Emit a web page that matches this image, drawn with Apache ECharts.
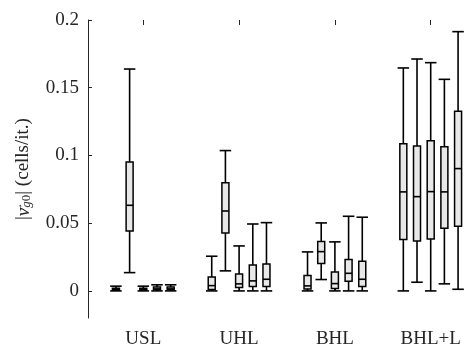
<!DOCTYPE html>
<html>
<head>
<meta charset="utf-8">
<script src="https://cdn.jsdelivr.net/npm/echarts@6/dist/echarts.min.js"></script>
<style>
html, body { margin: 0; padding: 0; background: #fff; }
#chart { width: 467px; height: 349px; }
</style>
</head>
<body>
<div id="chart"></div>
<script>
// groups on the x axis, five boxes in each
var groups = ['USL', 'UHL', 'BHL', 'BHL+L'];
var yTicks = [0, 0.05, 0.1, 0.15, 0.2];

// each box: [min, q1, median, q3, max]
var uslBoxes = [
    [0, 0.0005, 0.0012, 0.002, 0.0035],
    [0.0135, 0.0443, 0.0632, 0.0952, 0.1638],
    [0, 0.0005, 0.0012, 0.002, 0.0035],
    [0, 0.0008, 0.0015, 0.0028, 0.0045],
    [0, 0.0008, 0.0015, 0.0028, 0.0045]
];
var uhlBoxes = [
    [0, 0.001, 0.0039, 0.0103, 0.0256],
    [0.0148, 0.0428, 0.059, 0.0799, 0.1036],
    [0, 0.0025, 0.0052, 0.0125, 0.0332],
    [0, 0.0032, 0.0074, 0.0192, 0.0494],
    [0, 0.0032, 0.0086, 0.0199, 0.0504]
];
var bhlBoxes = [
    [0, 0.0015, 0.0037, 0.0113, 0.0288],
    [0.0084, 0.0202, 0.029, 0.0364, 0.0502],
    [0, 0.0017, 0.0054, 0.014, 0.0362],
    [0, 0.0071, 0.013, 0.0231, 0.0551],
    [0, 0.0032, 0.0086, 0.0219, 0.0544]
];
var bhllBoxes = [
    [0, 0.0379, 0.0731, 0.1087, 0.1646],
    [0.0064, 0.0369, 0.0696, 0.107, 0.1712],
    [0, 0.0384, 0.0733, 0.1109, 0.1685],
    [0.0052, 0.0462, 0.0731, 0.1065, 0.1562],
    [0.0012, 0.0477, 0.0903, 0.1326, 0.1914]
];

var allBoxes = [uslBoxes, uhlBoxes, bhlBoxes, bhllBoxes];
var seriesData = [];
allBoxes.forEach(function (list, g) {
    list.forEach(function (b, k) {
        seriesData.push([g, k].concat(b));
    });
});

var font = 'Liberation Serif';
var axisColor = '#262626';

function renderBox(params, api) {
    var cat = api.value(0);
    var slot = api.value(1);
    var band = api.size([1, 0])[0];
    var cx = api.coord([cat, 0])[0] + (slot - 2) * band / 7;
    function y(v) { return api.coord([cat, v])[1]; }
    var yMin = y(api.value(2)), yQ1 = y(api.value(3)), yMed = y(api.value(4)),
        yQ3 = y(api.value(5)), yMax = y(api.value(6));
    var bw = 7, cw = 11.5;
    var ls = { stroke: '#000', lineWidth: 1.6 };
    return {
        type: 'group',
        children: [
            { type: 'line', shape: { x1: cx, y1: yMin, x2: cx, y2: yMax }, style: ls },
            { type: 'line', shape: { x1: cx - cw / 2, y1: yMin, x2: cx + cw / 2, y2: yMin }, style: ls },
            { type: 'line', shape: { x1: cx - cw / 2, y1: yMax, x2: cx + cw / 2, y2: yMax }, style: ls },
            { type: 'rect', shape: { x: cx - bw / 2, y: yQ3, width: bw, height: yQ1 - yQ3 },
              style: { fill: '#e8e8e8', stroke: '#000', lineWidth: 1.5 } },
            { type: 'line', shape: { x1: cx - bw / 2, y1: yMed, x2: cx + bw / 2, y2: yMed }, style: ls }
        ]
    };
}

var chart = echarts.init(document.getElementById('chart'), null, { renderer: 'canvas' });
var option = {
    backgroundColor: '#fff',
    animation: false,
    grid: { left: 95.4, top: 20, width: 383.2, height: 298, outerBoundsMode: 'none' },
    xAxis: [
        {
            type: 'category',
            data: groups,
            position: 'bottom',
            axisLine: { show: false },
            axisTick: { show: true, inside: true, length: 5, alignWithLabel: true, lineStyle: { color: axisColor } },
            axisLabel: { margin: 12, color: axisColor, fontFamily: font, fontSize: 19 },
            splitLine: { show: false }
        },
        {
            type: 'category',
            data: groups,
            position: 'top',
            axisLine: { show: false },
            axisTick: { show: true, inside: true, length: 5, alignWithLabel: true, lineStyle: { color: axisColor } },
            axisLabel: { show: false },
            splitLine: { show: false }
        }
    ],
    yAxis: {
        type: 'value',
        min: -0.02,
        max: 0.2,
        offset: 7.4,
        axisLine: { show: true, lineStyle: { color: axisColor, width: 1 } },
        axisTick: { show: true, inside: true, length: 4, customValues: yTicks, lineStyle: { color: axisColor } },
        axisLabel: { margin: 9, customValues: yTicks, color: axisColor, fontFamily: font, fontSize: 19 },
        splitLine: { show: false },
        name: '{n||}{v|v}{a|\u2192}{s|g}{z|0}{n||} (cells/it.)',
        nameLocation: 'middle',
        nameGap: 55,
        nameTextStyle: {
            color: axisColor, fontFamily: font, fontSize: 19,
            rich: {
                n: { fontFamily: font, fontSize: 19, color: axisColor },
                v: { fontFamily: font, fontSize: 19, fontStyle: 'italic', color: axisColor },
                a: { fontFamily: font, fontSize: 11, color: axisColor, width: 0.01, align: 'right', verticalAlign: 'top' },
                s: { fontFamily: font, fontSize: 13, fontStyle: 'italic', color: axisColor, verticalAlign: 'bottom' },
                z: { fontFamily: font, fontSize: 13, color: axisColor, verticalAlign: 'bottom' }
            }
        }
    },
    series: [{
        type: 'custom',
        xAxisIndex: 0,
        renderItem: renderBox,
        encode: { x: 0, y: [2, 3, 4, 5, 6] },
        data: seriesData
    }]
};
chart.setOption(option);
</script>
</body>
</html>
